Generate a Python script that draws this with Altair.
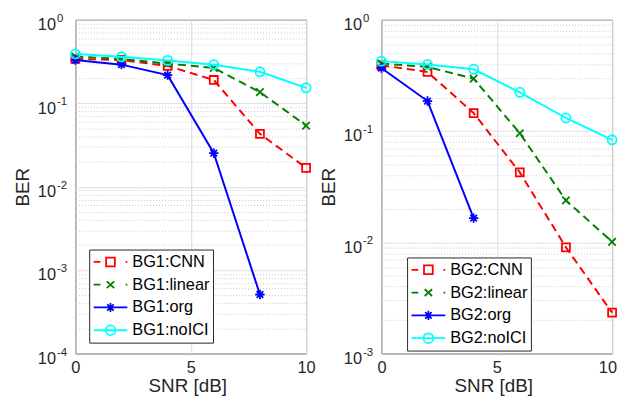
import math
import altair as alt
import pandas as pd

# ---------------- data ----------------
snr = [0, 2, 4, 6, 8, 10]

bg1_names = ["BG1:CNN", "BG1:linear", "BG1:org", "BG1:noICI"]
bg1_cnn = [0.34, 0.33, 0.28, 0.19, 0.043, 0.0168]
bg1_linear = [0.362, 0.34, 0.298, 0.265, 0.136, 0.054]
bg1_org = [0.33, 0.29, 0.217, 0.0252, 0.00051]          # SNR 0..8
bg1_noici = [0.39, 0.36, 0.326, 0.29, 0.238, 0.153]

bg2_names = ["BG2:CNN", "BG2:linear", "BG2:org", "BG2:noICI"]
bg2_cnn = [0.39, 0.34, 0.145, 0.0425, 0.0090, 0.00233]
bg2_linear = [0.405, 0.377, 0.296, 0.0955, 0.0238, 0.0101]
bg2_org = [0.369, 0.186, 0.0165]                          # SNR 0..4
bg2_noici = [0.425, 0.397, 0.359, 0.223, 0.131, 0.0834]

x_ticks = [0, 5, 10]
left_major = [1, 0.1, 0.01, 0.001, 0.0001]
left_exponents = ["0", "-1", "-2", "-3", "-4"]
right_major = [1, 0.1, 0.01, 0.001]
right_exponents = ["0", "-1", "-2", "-3"]
tick_base = "10"

# ---------------- styles ----------------
colors = ["#ff0000", "#008000", "#0000ff", "#00ffff"]
dashes = [[8, 5], [8, 5], None, None]
ASTERISK = "M0,-1V1M-1,0H1M-0.7,-0.7L0.7,0.7M-0.7,0.7L0.7,-0.7"
XMARK = "M-1,-1L1,1M-1,1L1,-1"
marker_shapes = ["square", XMARK, ASTERISK, "circle"]
marker_sizes = [64, 56, 90, 85]
legend_paths = [
    "M-1,0H-0.6M-0.26,-0.26H0.26V0.26H-0.26ZM0.9,0H1",
    "M-1,0H-0.6M-0.22,-0.2L0.22,0.2M-0.22,0.2L0.22,-0.2M0.9,0H1",
    "M-1,0H1M0,-0.27V0.27M-0.27,0H0.27M-0.19,-0.19L0.19,0.19M-0.19,0.19L0.19,-0.19",
    "M-1,0H1M0.29,0A0.29,0.29,0,1,1,-0.29,0A0.29,0.29,0,1,1,0.29,0",
]

FONT = "Liberation Sans"
W, H = 233, 337


def panel(names, series, ymin, majors, exponents, lx, ly, flush):
    rows = []
    for name, vals in zip(names, series):
        for x, v in zip(snr, vals):
            rows.append({"series": name, "snr": x, "ber": v})
    df = pd.DataFrame(rows)

    kmin = int(round(math.log10(ymin)))
    minors = [float(f"{m}e{k}") for k in range(kmin, 0) for m in range(2, 10)]
    tick_vals = sorted(majors + minors)
    major_list = "[" + ",".join(repr(v) for v in majors) + "]"
    is_minor = f"indexof({major_list}, datum.value) < 0"
    base_expr = f"{is_minor} ? '' : '{tick_base}'"
    exp_expr = " : ".join(
        f"datum.value == {v!r} ? '{e}'" for v, e in zip(majors, exponents)
    ) + " : ''"

    yscale = alt.Scale(type="log", domain=[ymin, 1], nice=False)
    x_kw = {"labelFlush": True, "labelFlushOffset": 4.5} if flush else {"labelFlush": False}
    xenc = alt.X(
        "snr:Q",
        scale=alt.Scale(domain=[0, 10], nice=False, zero=False),
        axis=alt.Axis(values=x_ticks, title="SNR [dB]", format="d", labelPadding=6,
                      titleY=38, titleX=113, titleBaseline="alphabetic", **x_kw),
    )
    yenc = alt.Y(
        "ber:Q", scale=yscale,
        axis=alt.Axis(
            orient="left", values=tick_vals, title="BER", labelExpr=base_expr,
            labelOverlap=False, labelPadding=20, labelOffset=5, titlePadding=1,
            minExtent=42, maxExtent=42,
            gridDash={"condition": {"test": is_minor, "value": [1, 2]}, "value": []},
            gridColor={"condition": {"test": is_minor, "value": "#c8c8c8"}, "value": "#e0e0e0"},
        ),
    )

    layers = []
    for name, c, d, shp, sz in zip(names, colors, dashes, marker_shapes, marker_sizes):
        sub = df[df.series == name]
        base = alt.Chart(sub).encode(x=xenc, y=yenc)
        line_kw = {"strokeDash": d} if d else {}
        layers.append(base.mark_line(color=c, strokeWidth=2, **line_kw))
        layers.append(base.mark_point(shape=shp, size=sz, filled=False, color=c,
                                      strokeWidth=1.8, opacity=1))

    leg = alt.Legend(
        title=None, orient="none", legendX=lx, legendY=ly,
        symbolSize=1156, symbolStrokeWidth=1.8, symbolOpacity=1, clipHeight=18,
        labelFont=FONT, labelFontSize=16.5, labelColor="black", labelOffset=4,
        strokeColor="#262626", fillColor="white", padding=3.5, rowPadding=5,
        cornerRadius=0,
    )
    legend_layer = alt.Chart(df).transform_filter("false").mark_point(
        filled=False, strokeWidth=1.8, opacity=1
    ).encode(
        color=alt.Color("series:N", scale=alt.Scale(domain=names, range=colors), legend=leg),
        shape=alt.Shape("series:N", scale=alt.Scale(domain=names, range=legend_paths), legend=leg),
    )
    layers.append(legend_layer)
    main = alt.layer(*layers)

    # exponent part of the y tick labels ("10" is drawn by the main axis)
    exp_layer = alt.Chart(df).transform_filter("false").mark_point().encode(
        y=alt.Y(
            "ber:Q", scale=yscale,
            axis=alt.Axis(
                orient="left", values=majors, title=None, labelExpr=exp_expr,
                labelOverlap=False, labelAlign="left", labelPadding=19, labelOffset=-1.5,
                labelFontSize=11.5, grid=False, minExtent=42, maxExtent=42,
            ),
        )
    )
    return alt.layer(main, exp_layer).resolve_axis(y="independent").properties(width=W, height=H)


left = panel(bg1_names, [bg1_cnn, bg1_linear, bg1_org, bg1_noici], 1e-4,
             left_major, left_exponents, 14, 232, False)
right = panel(bg2_names, [bg2_cnn, bg2_linear, bg2_org, bg2_noici], 1e-3,
              right_major, right_exponents, 26, 240, True)

chart = (
    alt.hconcat(left, right, spacing=3)
    .resolve_scale(x="independent", y="independent", color="independent", shape="independent")
    .resolve_legend(color="independent", shape="independent")
    .properties(padding={"left": 5, "top": 2, "right": 0, "bottom": 0})
    .configure(font=FONT)
    .configure_view(stroke="#262626", strokeWidth=1)
    .configure_axis(
        labelFont=FONT, labelFontSize=16.5, labelColor="#262626",
        titleFont=FONT, titleFontSize=19, titleFontWeight="normal", titleColor="#262626",
        ticks=False, domain=False, gridWidth=1,
    )
)

chart.save("out.html", embed_options={"renderer": "svg", "actions": False})
